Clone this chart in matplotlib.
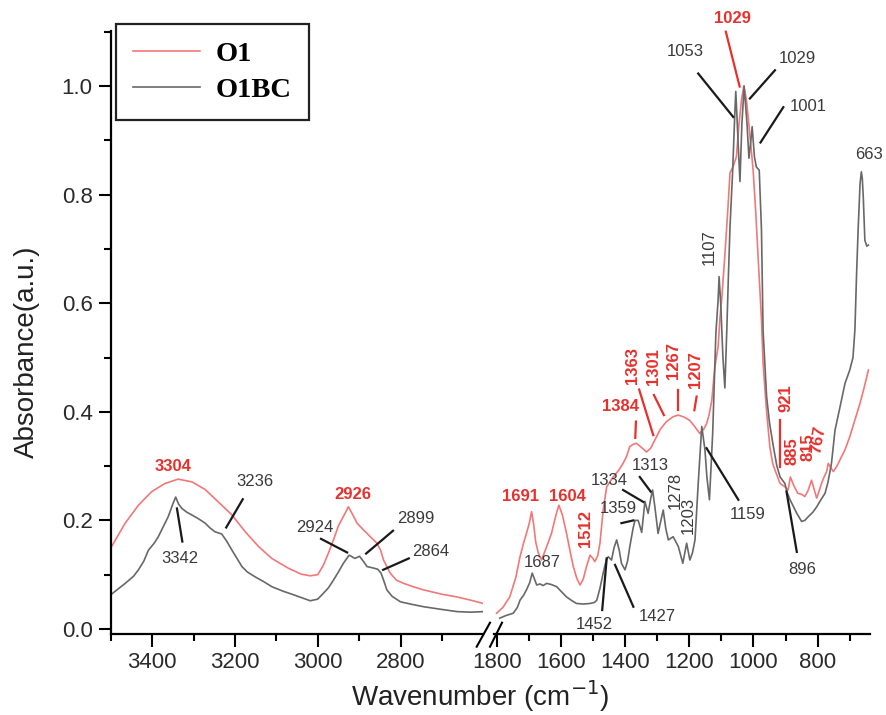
import matplotlib.pyplot as plt
from matplotlib.lines import Line2D
from matplotlib.ticker import MultipleLocator

plt.rcParams['font.family'] = ['Liberation Sans', 'DejaVu Sans']

# ---- spectra, high wavenumber side (3500-2600 cm-1) ----
wn_hi_o1 = [3500, 3465, 3433, 3401, 3369, 3337, 3304, 3272, 3240, 3207, 3175, 3143,
            3111, 3071, 3040, 3018, 3000, 2986, 2974, 2962, 2950, 2938, 2926, 2915,
            2905, 2890, 2873, 2857, 2848, 2841, 2825, 2810, 2792, 2770, 2744, 2700,
            2663, 2630, 2600]
ab_hi_o1 = [0.149, 0.195, 0.228, 0.253, 0.268, 0.276, 0.271, 0.257, 0.234, 0.210, 0.179, 0.152,
            0.130, 0.112, 0.101, 0.098, 0.100, 0.118, 0.140, 0.164, 0.190, 0.207, 0.225, 0.210,
            0.195, 0.183, 0.170, 0.158, 0.145, 0.127, 0.103, 0.090, 0.084, 0.078, 0.072, 0.064,
            0.059, 0.053, 0.047]

wn_hi_o1bc = [3500, 3480, 3465, 3445, 3433, 3420, 3409, 3395, 3385, 3372, 3361, 3350,
              3343, 3336, 3328, 3316, 3304, 3288, 3272, 3260, 3248, 3232, 3220, 3207,
              3195, 3183, 3170, 3151, 3130, 3111, 3085, 3062, 3040, 3018, 3000, 2986,
              2974, 2962, 2950, 2938, 2924, 2910, 2899, 2890, 2881, 2864, 2855, 2847,
              2840, 2833, 2820, 2800, 2770, 2744, 2700, 2663, 2630, 2600]
ab_hi_o1bc = [0.063, 0.075, 0.084, 0.097, 0.109, 0.125, 0.145, 0.158, 0.170, 0.190, 0.207, 0.230,
              0.243, 0.230, 0.222, 0.215, 0.210, 0.203, 0.195, 0.186, 0.179, 0.175, 0.162, 0.145,
              0.130, 0.115, 0.105, 0.096, 0.087, 0.078, 0.070, 0.064, 0.058, 0.052, 0.055, 0.066,
              0.076, 0.090, 0.105, 0.121, 0.136, 0.130, 0.134, 0.125, 0.115, 0.112, 0.110, 0.103,
              0.088, 0.072, 0.060, 0.050, 0.045, 0.041, 0.036, 0.032, 0.031, 0.032]

# ---- spectra, fingerprint side (1800-640 cm-1) ----
wn_lo_o1 = [1800, 1780, 1759, 1740, 1727, 1715, 1707, 1698, 1691, 1685, 1678, 1670,
            1660, 1645, 1629, 1615, 1606, 1595, 1582, 1570, 1561, 1550, 1540, 1530,
            1520, 1509, 1500, 1494, 1485, 1478, 1468, 1457, 1437, 1420, 1406, 1395,
            1385, 1375, 1364, 1350, 1333, 1320, 1307, 1290, 1271, 1250, 1234, 1215,
            1198, 1182, 1167, 1155, 1146, 1138, 1130, 1120, 1110, 1104, 1099, 1090,
            1080, 1073, 1063, 1053, 1045, 1037, 1030, 1022, 1016, 1008, 1001, 993,
            985, 975, 970, 964, 959, 949, 940, 933, 917, 902, 892, 885,
            875, 862, 850, 840, 830, 819, 810, 803, 795, 788, 780, 772,
            767, 760, 751, 740, 731, 715, 700, 684, 668, 655, 642]
ab_lo_o1 = [0.029, 0.040, 0.059, 0.095, 0.133, 0.160, 0.176, 0.195, 0.216, 0.195, 0.160, 0.140,
            0.127, 0.150, 0.176, 0.210, 0.228, 0.210, 0.176, 0.140, 0.115, 0.093, 0.081, 0.092,
            0.115, 0.136, 0.130, 0.124, 0.135, 0.158, 0.219, 0.262, 0.280, 0.292, 0.305, 0.318,
            0.336, 0.340, 0.342, 0.335, 0.326, 0.333, 0.348, 0.368, 0.382, 0.391, 0.394, 0.390,
            0.384, 0.372, 0.360, 0.368, 0.378, 0.395, 0.420, 0.483, 0.520, 0.575, 0.606, 0.680,
            0.770, 0.840, 0.852, 0.870, 0.930, 0.975, 1.000, 0.975, 0.940, 0.890, 0.845, 0.770,
            0.680, 0.570, 0.490, 0.440, 0.400, 0.336, 0.305, 0.293, 0.268, 0.262, 0.256, 0.280,
            0.265, 0.250, 0.248, 0.244, 0.255, 0.274, 0.255, 0.241, 0.255, 0.268, 0.280, 0.290,
            0.305, 0.298, 0.290, 0.300, 0.311, 0.330, 0.354, 0.385, 0.416, 0.445, 0.477]

wn_lo_o1bc = [1790, 1770, 1748, 1735, 1727, 1715, 1707, 1697, 1689, 1682, 1675, 1665,
              1655, 1644, 1630, 1613, 1600, 1582, 1565, 1551, 1530, 1509, 1495, 1488,
              1478, 1468, 1458, 1452, 1442, 1434, 1426, 1418, 1411, 1400, 1392, 1385,
              1375, 1369, 1359, 1348, 1338, 1328, 1320, 1314, 1307, 1297, 1290, 1281,
              1273, 1265, 1250, 1234, 1220, 1208, 1198, 1190, 1182, 1172, 1161, 1151,
              1145, 1137, 1127, 1117, 1110, 1107, 1102, 1095, 1089, 1083, 1078, 1073,
              1065, 1058, 1055, 1048, 1042, 1036, 1029, 1020, 1014, 1008, 1004, 997,
              991, 982, 975, 970, 959, 950, 938, 927, 917, 902, 896, 886,
              875, 865, 850, 840, 829, 815, 803, 790, 777, 768, 757, 746,
              730, 715, 700, 690, 684, 679, 674, 668, 664, 661, 658, 653,
              647, 642]
ab_lo_o1bc = [0.020, 0.025, 0.029, 0.040, 0.053, 0.063, 0.072, 0.085, 0.103, 0.092, 0.081, 0.083,
              0.080, 0.084, 0.082, 0.078, 0.070, 0.059, 0.052, 0.047, 0.046, 0.047, 0.049, 0.053,
              0.075, 0.103, 0.128, 0.133, 0.127, 0.150, 0.164, 0.145, 0.121, 0.109, 0.125, 0.152,
              0.185, 0.200, 0.200, 0.178, 0.235, 0.213, 0.240, 0.256, 0.225, 0.176, 0.195, 0.219,
              0.185, 0.164, 0.170, 0.152, 0.121, 0.158, 0.127, 0.140, 0.164, 0.268, 0.373, 0.330,
              0.280, 0.238, 0.360, 0.545, 0.606, 0.649, 0.600, 0.500, 0.444, 0.550, 0.650, 0.741,
              0.840, 0.950, 0.990, 0.900, 0.824, 0.930, 1.000, 0.930, 0.867, 0.900, 0.925, 0.870,
              0.851, 0.845, 0.735, 0.550, 0.428, 0.380, 0.336, 0.300, 0.280, 0.268, 0.253, 0.238,
              0.225, 0.213, 0.198, 0.200, 0.207, 0.215, 0.225, 0.238, 0.250, 0.270, 0.305, 0.366,
              0.410, 0.452, 0.477, 0.500, 0.551, 0.650, 0.735, 0.820, 0.842, 0.830, 0.796, 0.716,
              0.705, 0.707]

# ---- peak labels: (text, wavenumber, absorbance, series, rotation) ----
labels_hi = [("3304", 3349, 0.300, "O1", 0), ("3236", 3152, 0.271, "O1BC", 0),
             ("3342", 3334, 0.130, "O1BC", 0), ("2926", 2916, 0.248, "O1", 0),
             ("2924", 3008, 0.187, "O1BC", 0), ("2899", 2764, 0.204, "O1BC", 0),
             ("2864", 2728, 0.142, "O1BC", 0)]
labels_lo = [("1691", 1725, 0.244, "O1", 0), ("1604", 1579, 0.244, "O1", 0),
             ("1512", 1522, 0.185, "O1", 90), ("1687", 1657, 0.123, "O1BC", 0),
             ("1452", 1496, 0.009, "O1BC", 0), ("1427", 1299, 0.023, "O1BC", 0),
             ("1359", 1421, 0.222, "O1BC", 0), ("1334", 1450, 0.274, "O1BC", 0),
             ("1313", 1322, 0.302, "O1BC", 0), ("1278", 1244, 0.256, "O1BC", 90),
             ("1203", 1203, 0.210, "O1BC", 90), ("1159", 1019, 0.210, "O1BC", 0),
             ("1107", 1138, 0.703, "O1BC", 90), ("1384", 1414, 0.409, "O1", 0),
             ("1363", 1377, 0.486, "O1", 90), ("1301", 1312, 0.483, "O1", 90),
             ("1267", 1248, 0.495, "O1", 90), ("1207", 1182, 0.477, "O1", 90),
             ("1053", 1211, 1.063, "O1BC", 0), ("1029", 863, 1.051, "O1BC", 0),
             ("1029", 1065, 1.124, "O1", 0), ("1001", 829, 0.963, "O1BC", 0),
             ("663", 640, 0.874, "O1BC", 0), ("896", 847, 0.110, "O1BC", 0),
             ("921", 900, 0.425, "O1", 90), ("885", 881, 0.328, "O1", 90),
             ("815", 831, 0.335, "O1", 90), ("767", 798, 0.348, "O1", 80)]

# leader lines: (wn_start, abs_start, wn_end, abs_end, series)
leaders_hi = [(3181, 0.239, 3221, 0.187, "O1BC"), (3340, 0.222, 3327, 0.161, "O1BC"),
              (2992, 0.166, 2929, 0.141, "O1BC"), (2818, 0.181, 2883, 0.139, "O1BC"),
              (2780, 0.130, 2842, 0.109, "O1BC")]
leaders_lo = [(1471, 0.035, 1457, 0.130, "O1BC"), (1374, 0.041, 1431, 0.118, "O1BC"),
              (1411, 0.195, 1374, 0.200, "O1BC"), (1406, 0.256, 1343, 0.234, "O1BC"),
              (1354, 0.280, 1320, 0.253, "O1BC"), (1047, 0.238, 1146, 0.333, "O1BC"),
              (1366, 0.382, 1368, 0.352, "O1"), (1356, 0.441, 1312, 0.357, "O1"),
              (1310, 0.431, 1279, 0.394, "O1"), (1236, 0.440, 1236, 0.403, "O1"),
              (1177, 0.428, 1184, 0.403, "O1"), (1172, 1.023, 1063, 0.943, "O1BC"),
              (933, 1.029, 1011, 0.977, "O1BC"), (1086, 1.100, 1043, 0.999, "O1"),
              (907, 0.961, 978, 0.896, "O1BC"), (865, 0.142, 897, 0.253, "O1BC"),
              (918, 0.385, 918, 0.299, "O1")]

line_col = {"O1": "#f27878", "O1BC": "#686868"}
text_col = {"O1": "#e8302c", "O1BC": "#3a3a3a"}
lead_col = {"O1": "#e8302c", "O1BC": "#1a1a1a"}

W, H = 886, 715
fig = plt.figure(figsize=(W / 100, H / 100), dpi=100)


def box(x0, y0, x1, y1):
    return [x0 / W, 1 - y1 / H, (x1 - x0) / W, (y1 - y0) / H]


axl = fig.add_axes(box(110.7, 31, 482.9, 634))
axr = fig.add_axes(box(494, 31, 870, 634))

axl.plot(wn_hi_o1, ab_hi_o1, color=line_col["O1"], lw=1.2, label="O1")
axl.plot(wn_hi_o1bc, ab_hi_o1bc, color=line_col["O1BC"], lw=1.2, label="O1BC")
axr.plot(wn_lo_o1, ab_lo_o1, color=line_col["O1"], lw=1.2)
axr.plot(wn_lo_o1bc, ab_lo_o1bc, color=line_col["O1BC"], lw=1.2)

axl.set_xlim(3500, 2601)
axr.set_xlim(1808, 637)
for ax in (axl, axr):
    ax.set_ylim(-0.0092, 1.1013)
    ax.spines['top'].set_visible(False)
    ax.spines['right'].set_visible(False)
    ax.spines['bottom'].set_linewidth(1.6)
    ax.spines['left'].set_linewidth(1.6)
    ax.xaxis.set_major_locator(MultipleLocator(200))
    ax.xaxis.set_minor_locator(MultipleLocator(100))
    ax.tick_params(which='major', direction='out', length=9, width=1.5,
                   labelsize=16, pad=4, labelcolor='#2a2a2a')
    ax.tick_params(which='minor', direction='out', length=5, width=1.5)
    ax.patch.set_alpha(0)

axl.yaxis.set_major_locator(MultipleLocator(0.2))
axl.yaxis.set_minor_locator(MultipleLocator(0.1))
axl.yaxis.set_major_formatter(lambda v, p: f"{v:.1f}")
axr.spines['left'].set_visible(False)
axr.tick_params(axis='y', which='both', left=False, labelleft=False)

for ax, labels, leaders in ((axl, labels_hi, leaders_hi), (axr, labels_lo, leaders_lo)):
    for txt, x, y, s, rot in labels:
        ax.text(x, y, txt, color=text_col[s], fontsize=12, ha='center', va='center',
                rotation=rot, clip_on=False,
                fontweight='bold' if s == "O1" else 'normal')
    for x0, y0, x1, y1, s in leaders:
        ax.plot([x0, x1], [y0, y1], color=lead_col[s], lw=1.6, clip_on=False)

# axis break marks
for xa, xb in ((476.7, 490), (490, 502)):
    fig.add_artist(Line2D([xa / W, xb / W], [1 - 646.7 / H, 1 - 622.7 / H],
                          color='black', lw=1.5))

leg = axl.legend(loc='upper left', bbox_to_anchor=(116 / W, 1 - 24 / H),
                 bbox_transform=fig.transFigure, borderaxespad=0, frameon=True,
                 fancybox=False, edgecolor='#222222', framealpha=1,
                 prop={'family': 'Liberation Serif', 'weight': 'bold', 'size': 20.5},
                 handlelength=2.35, handletextpad=0.55, borderpad=0.6, labelspacing=0.35)
leg.get_frame().set_linewidth(1.6)

fig.text(27 / W, 1 - 352 / H, "Absorbance(a.u.)", rotation=90, ha='center', va='center',
         fontsize=20, color='#222222')
fig.text(480 / W, 1 - 706 / H, "Wavenumber (cm$^{-1}$)", ha='center', va='baseline',
         fontsize=20, color='#222222')

fig.savefig("out.png", dpi=100)
